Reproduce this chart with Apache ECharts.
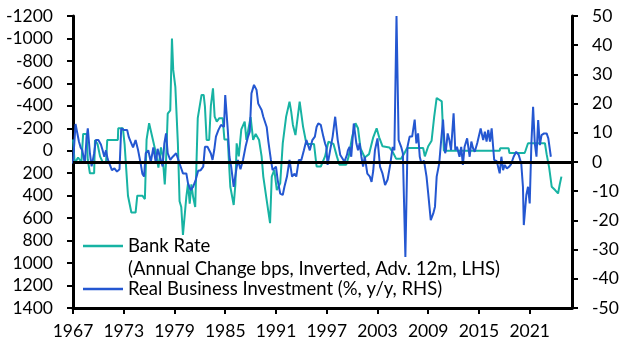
<!DOCTYPE html>
<html>
<head>
<meta charset="utf-8">
<script src="https://cdn.jsdelivr.net/npm/echarts@6/dist/echarts.min.js"></script>
<style>html,body{margin:0;padding:0;background:#fff}#c{width:631px;height:357px}</style>
</head>
<body>
<div id="c"></div>
<script>
// ---- Data ----
var xTickYears = [1967, 1973, 1979, 1985, 1991, 1997, 2003, 2009, 2015, 2021];

// Bank Rate: annual change, bps, inverted, advanced 12m (LHS)
var bankYears = [1967.0,1967.2,1967.6,1968.0,1968.2,1968.6,1968.75,1969.0,1969.5,1969.6,1969.9,1970.2,1970.5,1970.9,1971.05,1972.3,1972.35,1972.9,1973.1,1973.3,1973.5,1973.9,1974.4,1974.6,1975.2,1975.5,1975.7,1976.0,1976.2,1976.5,1976.8,1977.1,1977.4,1977.6,1977.85,1978.0,1978.2,1978.5,1978.7,1978.85,1979.1,1979.4,1979.6,1979.8,1980.0,1980.2,1980.4,1980.6,1980.8,1981.0,1981.2,1981.45,1981.75,1982.2,1982.45,1982.6,1982.8,1983.1,1983.3,1983.55,1983.75,1984.0,1984.3,1984.7,1984.9,1985.3,1985.45,1985.6,1986.0,1986.2,1986.35,1986.6,1986.9,1987.3,1987.5,1988.0,1988.3,1988.6,1989.0,1989.3,1989.5,1989.9,1990.3,1990.5,1990.8,1991.1,1991.5,1991.8,1992.2,1992.6,1992.8,1993.0,1993.3,1993.8,1994.0,1994.2,1994.6,1995.5,1995.8,1996.3,1996.8,1997.2,1997.8,1998.2,1998.5,1999.3,1999.6,2000.0,2000.4,2000.7,2001.0,2001.5,2002.0,2002.5,2002.9,2003.2,2003.6,2004.4,2004.8,2005.2,2005.8,2006.2,2006.5,2008.4,2008.6,2009.0,2009.4,2009.7,2010.0,2010.6,2010.85,2017.45,2017.5,2018.5,2018.6,2020.4,2020.5,2020.8,2022.8,2023.0,2023.3,2023.6,2024.0,2024.35,2024.55,2024.75];
var bankValues = [-100,110,60,100,-150,-150,80,200,200,-96,-60,50,100,110,-96,-96,-200,-200,-60,170,400,550,550,400,400,430,-100,-245,-240,-80,20,150,-30,50,300,100,-330,-360,-1000,-720,-570,-66,450,500,750,740,410,290,470,300,410,500,-290,-497,-497,-393,-96,-96,-400,-556,-304,-260,-290,-290,-100,-100,112,320,483,300,-66,50,-190,-260,-96,-300,-96,-150,-96,50,230,440,645,230,170,350,290,-66,-304,-437,-348,-230,-140,-437,-437,-215,-60,-60,140,140,50,-80,-60,50,125,125,50,-120,-245,-200,-20,60,30,-120,-200,-120,-40,-30,10,70,70,20,-24,-24,50,-40,-90,-300,-470,-440,0,0,-22,-22,20,20,0,-67,-67,30,150,320,350,380,300,230];

// Real Business Investment, % y/y (RHS)
var investYears = [1967.0,1967.3,1967.5,1967.7,1967.9,1968.1,1968.4,1968.6,1968.75,1969.0,1969.2,1969.5,1969.7,1970.0,1970.3,1970.5,1970.7,1970.9,1971.1,1971.3,1971.6,1971.9,1972.2,1972.5,1972.7,1973.0,1973.4,1973.6,1973.9,1974.1,1974.4,1974.7,1975.0,1975.2,1975.4,1975.6,1975.9,1976.2,1976.5,1976.8,1977.0,1977.3,1977.6,1977.8,1978.0,1978.2,1978.5,1978.8,1979.2,1979.6,1980.0,1980.4,1980.6,1980.9,1981.2,1981.5,1981.8,1982.1,1982.4,1982.6,1982.9,1983.1,1983.3,1983.5,1983.7,1983.9,1984.2,1984.5,1984.7,1984.85,1985.0,1985.3,1985.5,1985.7,1986.0,1986.3,1986.5,1986.8,1987.1,1987.4,1987.7,1987.9,1988.1,1988.4,1988.7,1988.9,1989.3,1989.5,1989.9,1990.1,1990.4,1990.6,1991.0,1991.2,1991.5,1991.8,1992.0,1992.3,1992.6,1992.9,1993.2,1993.4,1993.7,1994.0,1994.3,1994.6,1994.8,1995.0,1995.3,1995.6,1995.8,1996.0,1996.3,1996.6,1996.8,1996.95,1997.1,1997.4,1997.7,1998.0,1998.3,1998.6,1998.8,1999.1,1999.4,1999.5,1999.7,1999.9,2000.2,2000.5,2000.7,2000.9,2001.1,2001.3,2001.5,2001.8,2002.1,2002.3,2002.5,2002.7,2003.0,2003.3,2003.6,2003.9,2004.2,2004.5,2004.8,2005.0,2005.25,2005.5,2005.8,2006.0,2006.3,2006.55,2006.8,2007.1,2007.4,2007.6,2007.8,2008.0,2008.2,2008.5,2008.8,2009.0,2009.3,2009.6,2009.8,2010.0,2010.3,2010.5,2010.75,2011.0,2011.1,2011.3,2011.5,2011.7,2012.0,2012.2,2012.4,2012.7,2012.9,2013.1,2013.3,2013.6,2013.9,2014.1,2014.3,2014.5,2014.8,2015.2,2015.5,2015.7,2015.9,2016.1,2016.3,2016.5,2016.8,2017.1,2017.45,2017.65,2017.85,2018.05,2018.3,2018.6,2018.8,2019.1,2019.4,2019.7,2020.0,2020.2,2020.3,2020.6,2020.8,2021.0,2021.2,2021.4,2021.6,2021.8,2022.0,2022.2,2022.4,2022.7,2023.0,2023.2,2023.5];
var investValues = [-0.5,13,10,7,5,4,-0.5,8,11.5,3,-1.5,3,7.5,7.5,6,4,1.8,4,1,-0.5,-2.8,-2.2,-3.3,-2.5,11.5,11,11,8.5,6.4,5,7.5,4,-0.5,-4,-5,3,4,0,5,-0.5,4.5,1.5,-1.5,6.4,9.8,3,0.7,1.8,3,-0.5,-3.9,-3.9,-7.3,-9.6,-8.5,-6.2,-3,-2.8,-1.6,5.2,5.2,5.8,2.9,0.7,4.1,8.7,11,12.7,12.7,12,22.9,11,1.8,-1.6,-8.5,-2.8,0.7,-2.5,0.7,5.2,8.7,10.4,23.5,26.4,24.7,20,17.8,15.5,12,7,0.7,-2.8,-1.6,-6.2,-10.8,-11.3,-8.5,-5,0.7,-5,-4,-5,0.7,0.7,4,7.5,8,4,7.5,8.7,12,13.2,12.7,8.7,6.4,5.2,-1,4,8.7,15.5,7.5,2.4,1.8,0.1,2.5,4,5.2,1.8,13.2,6.4,4,6.4,1.8,-1.6,1.8,-4,-5,-6.8,-3,4,8.1,-1.6,-4,-7.9,-6,-1,5.2,4,50,7.5,5.2,3,-32.5,5.2,8.7,8.7,14.5,6.4,9.8,1.8,-0.5,0.5,-5,-10.8,-19.9,-17.6,-15.3,-5,-0.5,6.4,14.5,3,4.1,9.8,7.5,4.1,16.7,4.1,5.2,1.8,5.2,-1,5.2,8.1,1.8,7,4.7,3.5,6.5,11.5,7.5,10.4,7,11,7,11.5,0.7,0.3,-3.9,1.8,-2.8,-1,-2.2,-1.5,-0.7,1.8,3.5,2.4,-0.5,-8.5,-21.6,-11.3,-8.5,-14.2,6.4,18.9,6.4,1.8,14.4,5.8,9.2,9.8,9.8,8.1,1.8];

var bankName = 'Bank Rate';
var bankNote = '(Annual Change bps, Inverted, Adv. 12m, LHS)';
var investName = 'Real Business Investment (%, y/y, RHS)';

function zip(a, b) { return a.map(function (v, i) { return [v, b[i]]; }); }

var FONT = 'Lato';
var TEAL = '#17B3A3';
var BLUE = '#2457D1';
var axisCol = '#000';
var LEG_FS = 18.5;
var TICK_FS = 17.5;

var chart = echarts.init(document.getElementById('c'), null, { renderer: 'canvas' });
chart.setOption({
  animation: false,
  backgroundColor: '#fff',
  textStyle: { fontFamily: FONT },
  grid: { left: 73, right: 59, top: 16, bottom: 49, containLabel: false },
  xAxis: {
    type: 'value', min: 1967, max: 2026,
    splitLine: { show: false },
    axisLine: { show: true, onZero: false, lineStyle: { color: axisCol, width: 3 } },
    axisTick: { show: true, customValues: xTickYears, length: 6, lineStyle: { color: axisCol, width: 2 } },
    axisLabel: { customValues: xTickYears, formatter: function (v) { return String(v); }, color: '#000', fontSize: TICK_FS, fontFamily: FONT, margin: 14 }
  },
  yAxis: [{
    type: 'value', position: 'left', inverse: true, min: -1200, max: 1400, interval: 200,
    splitLine: { show: false },
    axisLine: { show: true, lineStyle: { color: axisCol, width: 3 } },
    axisTick: { show: true, length: 6, lineStyle: { color: axisCol, width: 2 } },
    axisLabel: { formatter: function (v) { return String(v); }, color: '#000', fontSize: TICK_FS, fontFamily: FONT, margin: 20 }
  }, {
    type: 'value', position: 'right', min: -50, max: 50, interval: 10,
    splitLine: { show: false },
    axisLine: { show: true, lineStyle: { color: axisCol, width: 3 } },
    axisTick: { show: true, length: 6, lineStyle: { color: axisCol, width: 2 } },
    axisLabel: { formatter: function (v) { return String(v); }, color: '#000', fontSize: TICK_FS, fontFamily: FONT, margin: 20 }
  }],
  legend: [{
    data: [{ name: bankName, icon: 'rect' }], left: 83, top: 236, padding: 0, itemWidth: 40, itemHeight: 2.5, itemGap: 0,
    textStyle: { fontSize: LEG_FS, fontFamily: FONT, color: '#000', lineHeight: 20 }, selectedMode: false
  }, {
    data: [{ name: investName, icon: 'rect' }], left: 83, top: 279, padding: 0, itemWidth: 40, itemHeight: 2.5, itemGap: 0,
    textStyle: { fontSize: LEG_FS, fontFamily: FONT, color: '#000', lineHeight: 20 }, selectedMode: false
  }],
  graphic: [{
    type: 'text', left: 128, top: 260,
    style: { text: bankNote, fontSize: LEG_FS, fontFamily: FONT, fill: '#000' }
  }],
  series: [{
    name: bankName, type: 'line', yAxisIndex: 0, data: zip(bankYears, bankValues),
    symbol: 'none', showSymbol: false, lineStyle: { color: TEAL, width: 2 }, itemStyle: { color: TEAL }
  }, {
    name: investName, type: 'line', yAxisIndex: 1, data: zip(investYears, investValues),
    symbol: 'none', showSymbol: false, lineStyle: { color: BLUE, width: 2 }, itemStyle: { color: BLUE },
    markLine: {
      silent: true, symbol: ['none', 'none'], label: { show: false },
      lineStyle: { color: '#000', width: 3, type: 'solid' },
      data: [{ yAxis: 0 }]
    }
  }]
});
</script>
</body>
</html>
